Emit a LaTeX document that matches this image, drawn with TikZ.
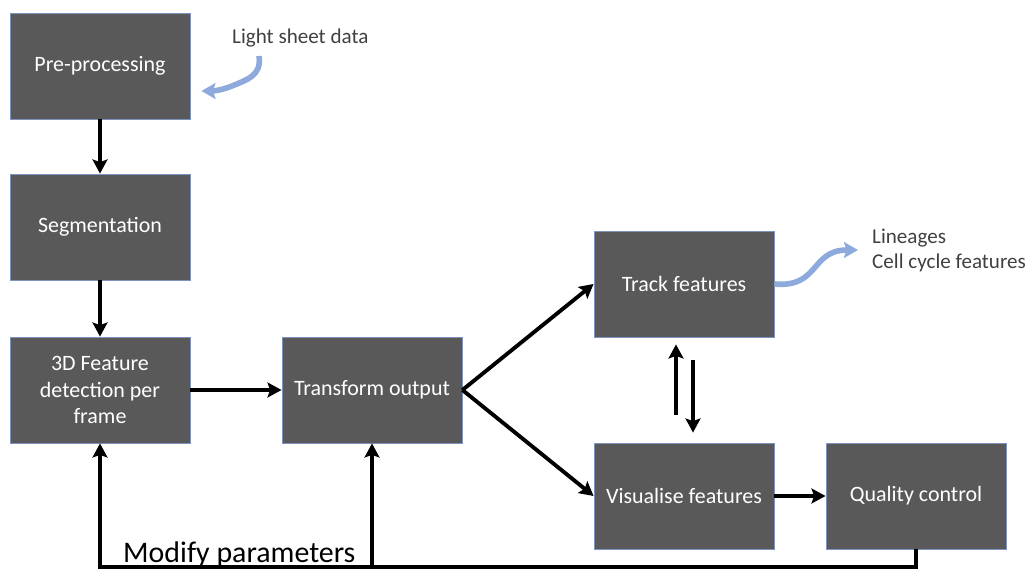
\documentclass[tikz,border=0pt]{standalone}
\usepackage{fontspec}
\setmainfont{Carlito}
\usepackage{tikz}
\usetikzlibrary{arrows.meta}
\definecolor{boxgrey}{HTML}{595959}
\definecolor{boxline}{HTML}{7F93BF}
\definecolor{lblue}{HTML}{8EA9DB}
\definecolor{dtext}{HTML}{404040}
\tikzstyle{stage} = [rectangle, minimum width=3.6cm, minimum height=2.12cm, align=center, draw=boxline, line width=0.5pt, fill=boxgrey, text=white, font=\fontsize{12.5}{15}\selectfont]
\tikzstyle{arrow} = [line width=2.2pt, -{Stealth[length=8pt, width=8.5pt, inset=1.5pt]}]
\tikzstyle{inout} = [line width=3.2pt, draw=lblue, -{Stealth[length=8pt, width=9pt, inset=1.5pt]}]
\tikzstyle{note} = [text=dtext, align=left, font=\fontsize{12}{14}\selectfont]

\begin{document}
\begin{tikzpicture}[x=0.02cm, y=-0.02cm]
  \useasboundingbox (0,0) rectangle (1032,570);

  \node (pre) [stage] at (100,66) {Pre-processing};
  \node (seg) [stage] at (100,227) {Segmentation};
  \node (feat) [stage] at (100,390) {3D Feature\\detection per\\frame};
  \node (trans) [stage] at (372,390) {Transform output};
  \node (track) [stage] at (684,284) {Track features};
  \node (vis) [stage] at (684,496) {Visualise features};
  \node (qc) [stage] at (916,496) {Quality control};

  \node (light) [note, anchor=west] at (226,38) {Light sheet data};
  \node (lin) [note, anchor=west] at (866,238) {Lineages};
  \node (cyc) [note, anchor=west] at (866,263) {Cell cycle features};
  \node (mod) [anchor=base west, font=\fontsize{17}{19}\selectfont] at (117,563) {Modify parameters};

  \coordinate (loopr) at (916,567);
  \coordinate (loopm) at (372,567);
  \coordinate (lsin) at (259,56);
  \coordinate (outend) at (858,250);

  \draw [arrow] (pre) -- (seg);
  \draw [arrow] (seg) -- (feat);
  \draw [arrow] (feat) -- (trans);
  \draw [arrow] (trans.east) -- (track.west);
  \draw [arrow] (trans.east) -- (vis.west);
  \draw [arrow] ([xshift=-0.16cm,yshift=0.56cm]vis.north) -- ([xshift=-0.16cm,yshift=-0.14cm]track.south);
  \draw [arrow] ([xshift=0.18cm,yshift=-0.46cm]track.south) -- ([xshift=0.18cm,yshift=0.2cm]vis.north);
  \draw [arrow] (vis) -- (qc);
  \draw [arrow] (qc.south) -- (loopr) -| (feat.south);
  \draw [arrow] (loopm) -- (trans.south);

  \draw [inout] (lsin) .. controls (262,76) and (246,80) .. (232,86) .. controls (222,90) and (214,91) .. ([xshift=0.22cm]pre.east |- 0,91);
  \draw [inout] (track.east) .. controls (820,288) and (810,250) .. (outend);
\end{tikzpicture}
\end{document}
